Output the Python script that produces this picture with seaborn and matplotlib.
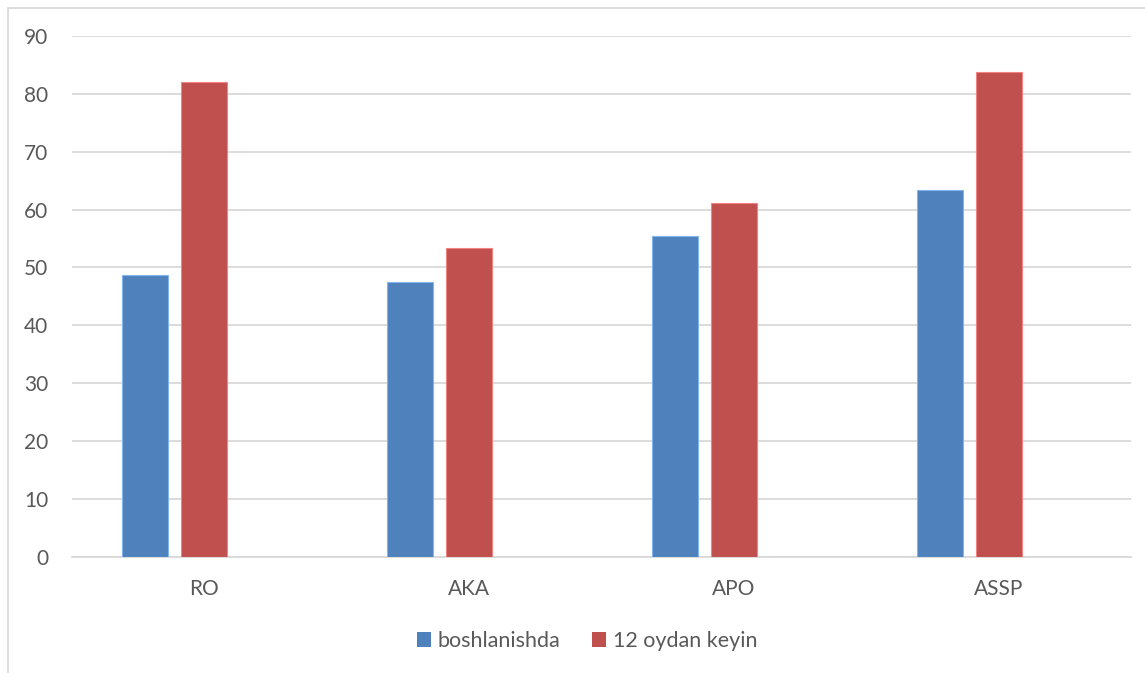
import matplotlib
matplotlib.use("Agg")
import matplotlib.pyplot as plt
import seaborn as sns
import pandas as pd
from matplotlib.patches import Rectangle, Patch

categories = ["RO", "AKA", "APO", "ASSP"]
series_names = ["boshlanishda", "12 oydan keyin"]
start_vals = [48.7, 47.5, 55.4, 63.4]
after_vals = [82.0, 53.4, 61.2, 83.8]
yticks = [0, 10, 20, 30, 40, 50, 60, 70, 80, 90]

colors = ["#4F81BD", "#C0504D"]
empty_level = " "

rows = []
for c, v in zip(categories, start_vals):
    rows.append({"cat": c, "series": series_names[0], "val": v})
for c, v in zip(categories, after_vals):
    rows.append({"cat": c, "series": series_names[1], "val": v})
df = pd.DataFrame(rows)

sns.set_theme(style="white")
plt.rcParams["font.family"] = ["Lato", "DejaVu Sans"]

fig = plt.figure(figsize=(11.45, 6.73), dpi=100)
ax = fig.add_axes([72/1145, (673-556.7)/673, (1131-72)/1145, (556.7-36)/673])

palette = {series_names[0]: colors[0], series_names[1]: colors[1], empty_level: "white"}
sns.barplot(data=df, x="cat", y="val", hue="series",
            hue_order=[series_names[0], series_names[1], empty_level],
            order=categories, palette=palette, width=0.669, gap=0.22,
            saturation=1, ax=ax, errorbar=None, legend=False, zorder=3)

for p in ax.patches:
    p.set_linewidth(0.8)
    fc = p.get_facecolor()
    p.set_edgecolor((min(fc[0]+0.2, 1), min(fc[1]+0.2, 1), min(fc[2]+0.2, 1), 1))

ax.set_ylim(0, 90)
ax.set_xlim(-0.5, 3.5)
ax.set_yticks(yticks)
ax.set_yticklabels([str(t) for t in yticks])
ax.yaxis.grid(True, color="#D9D9D9", linewidth=1.3, zorder=0)
ax.set_axisbelow(True)
for s in ["top", "right", "left"]:
    ax.spines[s].set_visible(False)
ax.spines["bottom"].set_color("#D9D9D9")
ax.spines["bottom"].set_linewidth(1.3)
ax.set_xlabel("")
ax.set_ylabel("")
ax.tick_params(axis="both", length=0, labelsize=15, labelcolor="#595959")
ax.tick_params(axis="y", pad=17)
ax.tick_params(axis="x", pad=16)

handles = [Patch(facecolor=colors[0], edgecolor="none"),
           Patch(facecolor=colors[1], edgecolor="none")]
fig.legend(handles, series_names, loc="center", bbox_to_anchor=(587/1145, (673-641)/673),
           ncol=2, frameon=False, fontsize=15.5, labelcolor="#595959",
           handlelength=0.65, handleheight=0.65, handletextpad=0.3, columnspacing=1.5)

fig.patches.append(Rectangle((8/1145, -0.1), 1.2, (673-8)/673 + 0.1,
                             transform=fig.transFigure, fill=False,
                             edgecolor="#D9D9D9", linewidth=1.3))

fig.savefig("out.png", dpi=100, facecolor="white")
